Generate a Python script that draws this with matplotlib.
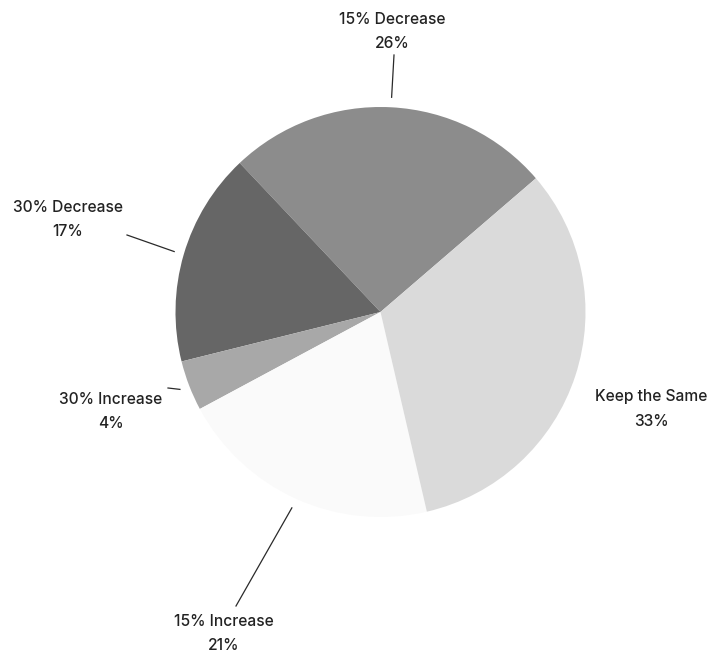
import numpy as np
import matplotlib.pyplot as plt

labels = ['15% Decrease', '30% Decrease', '30% Increase', '15% Increase', 'Keep the Same']
shares = [26, 17, 4, 21, 33]
colors = ['#8c8c8c', '#666666', '#a8a8a8', '#fafafa', '#dadada']

# text anchor for each label (pixel space, y measured from the top)
text_pos = [(392, 31), (68, 220), (111, 411), (224, 634), (651, 409)]
# outer end of each leader line, None where there is no line
line_end = [(394, 55), (127, 235), (168, 388), (236, 606), None]

W, H = 721, 654
fig = plt.figure(figsize=(W / 100, H / 100), dpi=100)
ax = fig.add_axes([0, 0, 1, 1])

cx, cy, r = 380.5, H - 312, 205
wedges, _ = ax.pie(shares, colors=colors, startangle=40.7, counterclock=True,
                   center=(cx, cy), radius=r, frame=True,
                   wedgeprops=dict(linewidth=0))
ax.set_xlim(0, W)
ax.set_ylim(0, H)
ax.set_aspect('equal')
ax.axis('off')

for w, lab, val, (tx, ty), end in zip(wedges, labels, shares, text_pos, line_end):
    mid = np.deg2rad((w.theta1 + w.theta2) / 2)
    if end is not None:
        x0 = cx + (r + 10) * np.cos(mid)
        y0 = cy + (r + 10) * np.sin(mid)
        ax.plot([x0, end[0]], [y0, H - end[1]], color='#2a2a2a', lw=0.9)
    ax.text(tx, H - ty, f'{lab}\n{val}%', ha='center', va='center',
            fontsize=11.2, family='Inter', fontweight='medium',
            color='#222222', linespacing=1.75)

fig.savefig('out.png', dpi=100, facecolor='white')
